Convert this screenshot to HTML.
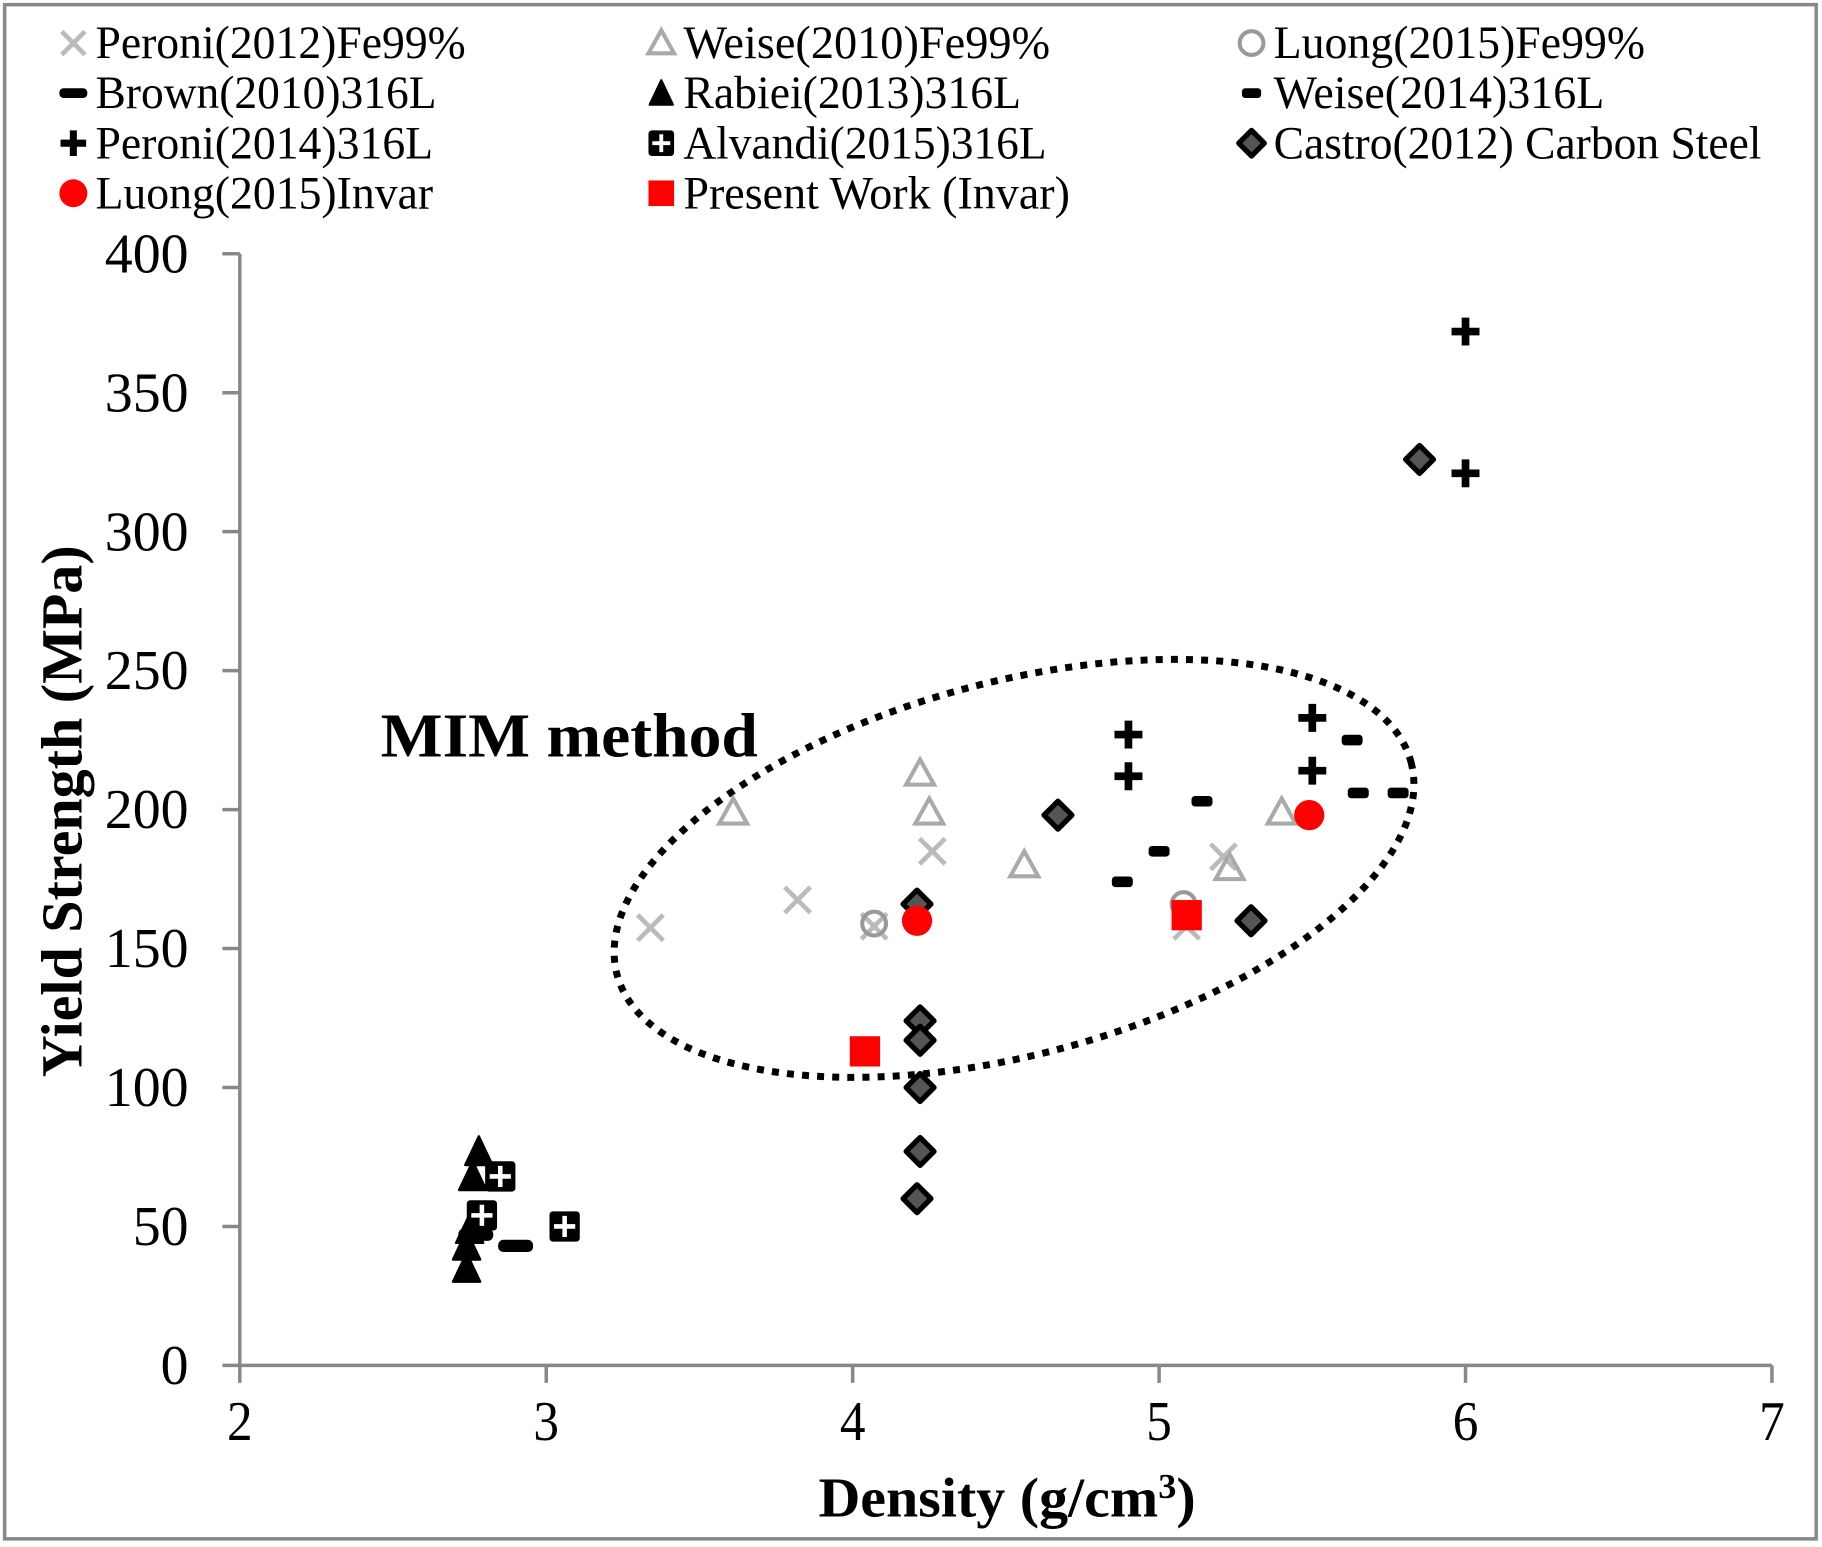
<!DOCTYPE html>
<html><head><meta charset="utf-8"><style>
html,body{margin:0;padding:0;background:#fff;}
svg{display:block;font-family:"Liberation Serif",serif;}
</style></head><body>
<svg id="chart" width="1822" height="1547" viewBox="0 0 1565 1329" preserveAspectRatio="none" xmlns="http://www.w3.org/2000/svg">
<rect x="4" y="4" width="1556" height="1318" fill="#fff" stroke="#888" stroke-width="3"/>
<g id="axes"></g>
<g id="marks"></g>
<g id="legend"></g>
</svg>
<script>
const NS='http://www.w3.org/2000/svg';
// ---- data ----
const xTicks=[2,3,4,5,6,7];
const yTicks=[0,50,100,150,200,250,300,350,400];
const peroni2012X=[3.34,3.82,4.07,4.26,5.09,5.21];
const peroni2012Y=[157.5,167.5,158,185,158,183];
const weise2010X=[3.61,4.22,4.25,4.56,5.23,5.40];
const weise2010Y=[199,213,199,180,179,199];
const luongFeX=[4.07,5.08];
const luongFeY=[159,166];
const brownX=[2.90,2.77];
const brownY=[43,47];
const rabieiX=[2.78,2.76,2.75,2.74,2.74];
const rabieiY=[77,68,49,43,35];
const weise2014X=[4.88,5.0,5.14,5.63,5.65,5.78];
const weise2014Y=[174,185,203,225,206,206];
const peroni2014X=[4.9,4.9,5.5,5.5,6.0,6.0];
const peroni2014Y=[227,212,233,214,372,321];
const alvandiX=[2.85,2.79,3.06];
const alvandiY=[68,54,50];
const castroX=[4.21,4.67,5.30,5.85,4.22,4.22,4.22,4.22,4.21];
const castroY=[166,198,160,326,124,117,100,77,60];
const luongInvarX=[4.21,5.49];
const luongInvarY=[160,198];
const presentX=[4.04,5.09];
const presentY=[113,162];
// ---- scales ----
const X0=206,X1=1522,Y0=1173,Y1=218;
const sx=v=>X0+(v-2)/5*(X1-X0);
const sy=v=>Y0-(v/400)*(Y0-Y1);
function el(t,a,p){const e=document.createElementNS(NS,t);for(const k in a)e.setAttribute(k,a[k]);p.appendChild(e);return e;}
const axes=document.getElementById('axes'),marks=document.getElementById('marks'),legend=document.getElementById('legend');
let a=el('line',{x1:X0,y1:Y0,x2:X1,y2:Y0,stroke:'#888','stroke-width':3},axes);


a=el('line',{x1:X0,y1:Y0,x2:X0,y2:Y1,stroke:'#888','stroke-width':3},axes);


xTicks.forEach(v=>{
  const t=el('line',{x1:sx(v),y1:Y0,x2:sx(v),y2:Y0+15,stroke:'#888','stroke-width':3},axes);
  
  
  const l=el('text',{x:sx(v),y:Y0+64,'text-anchor':'middle','font-size':48,textLength:22,lengthAdjust:'spacingAndGlyphs'},axes);
  l.textContent=v;
  
  
});
yTicks.forEach(v=>{
  const t=el('line',{x1:X0-15,y1:sy(v),x2:X0,y2:sy(v),stroke:'#888','stroke-width':3},axes);
  
  
  const s=String(v);
  const l=el('text',{x:X0-44,y:sy(v)+16,'text-anchor':'end','font-size':48,textLength:s.length*24,lengthAdjust:'spacingAndGlyphs'},axes);
  l.textContent=s;
  
  
});
let tt=el('text',{x:865,y:1303,'text-anchor':'middle','font-size':48,'font-weight':'bold',textLength:324,lengthAdjust:'spacingAndGlyphs'},axes);
tt.innerHTML='Density (g/cm<tspan font-size="30" dy="-16">3</tspan><tspan dy="16">)</tspan>';


tt=el('text',{x:0,y:0,'text-anchor':'middle','font-size':50,'font-weight':'bold',transform:'translate(70,697) rotate(-90)',textLength:457,lengthAdjust:'spacingAndGlyphs'},axes);
tt.textContent='Yield Strength (MPa)';


tt=el('text',{x:327,y:650,'font-size':54,'font-weight':'bold',textLength:324,lengthAdjust:'spacingAndGlyphs'},axes);
tt.textContent='MIM method';


tt=el('ellipse',{cx:871,cy:746,rx:353,ry:160,transform:'rotate(-15 871 746)',fill:'none',stroke:'#000','stroke-width':6,'stroke-dasharray':'6 7'},axes);


const M={
 xg:(g,x,y,s)=>{el('path',{d:`M${x-s},${y-s}L${x+s},${y+s}M${x-s},${y+s}L${x+s},${y-s}`,stroke:'#bbb','stroke-width':4,fill:'none'},g);},
 tri:(g,x,y,s)=>{el('polygon',{points:`${x},${y-s} ${x+s},${y+s*0.8} ${x-s},${y+s*0.8}`,fill:'none',stroke:'#aaa','stroke-width':3.5},g);},
 circ:(g,x,y,s)=>{el('circle',{cx:x,cy:y,r:s*0.85,fill:'none',stroke:'#999','stroke-width':3.5},g);},
 dash:(g,x,y,s)=>{el('rect',{x:x-s,y:y-s*0.35,width:2*s,height:s*0.7,rx:s*0.3,fill:'#000'},g);},
 ftri:(g,x,y,s)=>{el('polygon',{points:`${x},${y-s} ${x+s*0.9},${y+s*0.9} ${x-s*0.9},${y+s*0.9}`,fill:'#000',stroke:'#000','stroke-width':2,'stroke-linejoin':'round'},g);},
 sdash:(g,x,y,s)=>{el('rect',{x:x-s*0.75,y:y-s*0.38,width:1.5*s,height:s*0.76,rx:s*0.25,fill:'#000'},g);},
 plus:(g,x,y,s)=>{el('path',{d:`M${x-s},${y}L${x+s},${y}M${x},${y-s}L${x},${y+s}`,stroke:'#000','stroke-width':s*0.55},g);},
 bplus:(g,x,y,s)=>{el('rect',{x:x-s,y:y-s,width:2*s,height:2*s,rx:3,fill:'#000'},g);el('path',{d:`M${x-s*0.7},${y}L${x+s*0.7},${y}M${x},${y-s*0.7}L${x},${y+s*0.7}`,stroke:'#fff','stroke-width':s*0.3},g);},
 dia:(g,x,y,s)=>{el('polygon',{points:`${x},${y-s} ${x+s},${y} ${x},${y+s} ${x-s},${y}`,fill:'#555',stroke:'#000','stroke-width':4.5,'stroke-linejoin':'round'},g);},
 rcirc:(g,x,y,s)=>{el('circle',{cx:x,cy:y,r:s,fill:'#f00'},g);},
 rsq:(g,x,y,s)=>{el('rect',{x:x-s,y:y-s,width:2*s,height:2*s,fill:'#f00'},g);}
};
const series=[
 ['peroni-2012-fe99',peroni2012X,peroni2012Y,'xg',11,'Peroni(2012)Fe99%'],
 ['weise-2010-fe99',weise2010X,weise2010Y,'tri',12,'Weise(2010)Fe99%'],
 ['luong-2015-fe99',luongFeX,luongFeY,'circ',12,'Luong(2015)Fe99%'],
 ['brown-2010-316l',brownX,brownY,'dash',15,'Brown(2010)316L'],
 ['rabiei-2013-316l',rabieiX,rabieiY,'ftri',13,'Rabiei(2013)316L'],
 ['weise-2014-316l',weise2014X,weise2014Y,'sdash',12,'Weise(2014)316L'],
 ['peroni-2014-316l',peroni2014X,peroni2014Y,'plus',12,'Peroni(2014)316L'],
 ['alvandi-2015-316l',alvandiX,alvandiY,'bplus',13,'Alvandi(2015)316L'],
 ['castro-2012-carbon-steel',castroX,castroY,'dia',12,'Castro(2012) Carbon Steel'],
 ['luong-2015-invar',luongInvarX,luongInvarY,'rcirc',13,'Luong(2015)Invar'],
 ['present-work-invar',presentX,presentY,'rsq',13,'Present Work (Invar)']
];
const legW=[318,315,319,293,290,284,290,312,419,290,332];
const legS={xg:10,tri:11,circ:12,dash:12,ftri:11,sdash:11,plus:11,bplus:11,dia:11,rcirc:12,rsq:11};
series.forEach((s,i)=>{
  const g=el('g',{},marks);
  
  
  s[1].forEach((xv,j)=>{
    const p=el('g',{},g);
    
    
    M[s[3]](p,sx(xv),sy(s[2][j]),s[4]);
  });
  const col=i%3,row=Math.floor(i/3);
  const lx=[63,568,1075][col],ly=37+row*43;
  const lg=el('g',{},legend);
  
  
  M[s[3]](lg,lx,ly,legS[s[3]]);
  const t=el('text',{x:lx+19,y:ly+13,'font-size':40,textLength:legW[i],lengthAdjust:'spacingAndGlyphs'},lg);
  t.textContent=s[5];
});
</script>
</body></html>
